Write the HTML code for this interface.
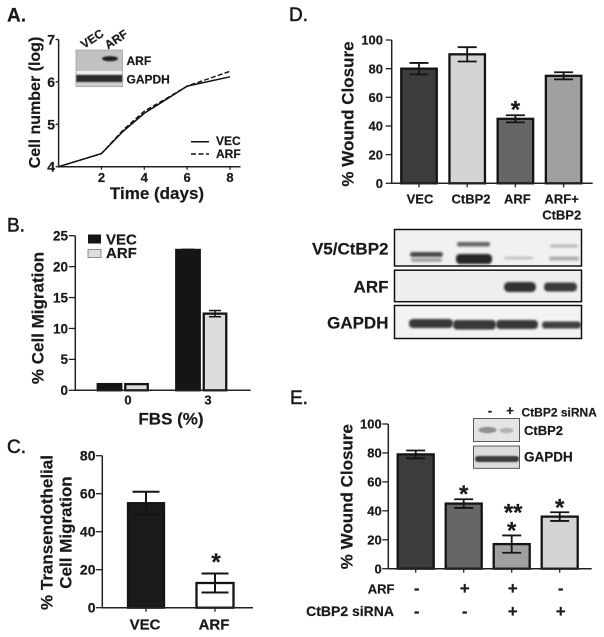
<!DOCTYPE html>
<html lang="en">
<head>
<meta charset="utf-8">
<title>Multi-panel cell migration figure</title>
<style>
html,body{margin:0;padding:0;background:#fff;width:604px;height:637px;overflow:hidden}
svg{display:block;filter:blur(.35px)}
text{font-family:"Liberation Sans",Arial,sans-serif;font-weight:bold;fill:#1a1a1a;stroke:#1a1a1a;stroke-width:.2px}
</style>
</head>
<body>
<svg id="fig" xmlns="http://www.w3.org/2000/svg" width="604" height="637" viewBox="0 0 604 637">
<defs>
<filter id="b1" x="-30%" y="-80%" width="160%" height="260%"><feGaussianBlur stdDeviation="1.1"/></filter>
<filter id="b2" x="-30%" y="-80%" width="160%" height="260%"><feGaussianBlur stdDeviation="0.7"/></filter>
<clipPath id="clipV5"><rect x="395" y="230" width="186" height="36"/></clipPath>
<clipPath id="clipArf"><rect x="395" y="271" width="186" height="30"/></clipPath>
<clipPath id="clipGap"><rect x="395" y="306" width="186" height="32"/></clipPath>
</defs>
<rect width="604" height="637" fill="#fff"/>

<g>
<text x="7" y="21.5" style="font-size:19px;font-weight:bold">A.</text>
<text x="7" y="231.5" style="font-size:19px;font-weight:normal;stroke-width:.55px">B.</text>
<text x="7" y="453" style="font-size:19px;font-weight:normal;stroke-width:.55px">C.</text>
<text x="289" y="21" style="font-size:19px;font-weight:normal;stroke-width:.55px">D.</text>
<text x="290" y="404" style="font-size:19px;font-weight:normal;stroke-width:.55px">E.</text>
</g>

<!-- Panel A static -->
<g id="panelA">
<text transform="translate(40 102.5) rotate(-90)" text-anchor="middle" style="font-size:16px">Cell number (log)</text>
<text x="157" y="199" text-anchor="middle" style="font-size:17px">Time (days)</text>
<g>
<rect x="76" y="50" width="46.5" height="21" fill="#c2c2c2"/>
<ellipse cx="110" cy="58.7" rx="8" ry="2.6" fill="#222" filter="url(#b2)"/>
<rect x="76" y="71" width="46.5" height="3" fill="#eee"/>
<rect x="76" y="74" width="46.5" height="12.7" fill="#cfcfcf"/>
<rect x="76" y="75" width="46.5" height="7" fill="#2a2a2a" filter="url(#b2)"/>
<rect x="76" y="50" width="46.5" height="36.7" fill="none" stroke="#999" stroke-width=".7"/>
</g>
<text transform="translate(84 49) rotate(-33)" style="font-size:12px">VEC</text>
<text transform="translate(108 49.5) rotate(-33)" style="font-size:12px">ARF</text>
<text x="126.5" y="65" style="font-size:12px">ARF</text>
<text x="126.5" y="83.5" style="font-size:12px">GAPDH</text>
<line x1="191" x2="209" y1="141.7" y2="141.7" stroke="#111" stroke-width="1.5"/>
<line x1="191" x2="209" y1="154" y2="154" stroke="#111" stroke-width="1.5" stroke-dasharray="5 2.5"/>
<text x="216" y="145" style="font-size:12px">VEC</text>
<text x="216" y="158" style="font-size:12px">ARF</text>
</g>

<!-- Panel B static -->
<g id="panelB">
<text transform="translate(43.5 318) rotate(-90)" text-anchor="middle" style="font-size:17px">% Cell Migration</text>
<text x="171" y="424.5" text-anchor="middle" style="font-size:17px">FBS (%)</text>
<rect x="88" y="234.5" width="13" height="9" fill="#151515"/>
<rect x="88" y="249.5" width="13" height="8" fill="#dcdcdc" stroke="#777" stroke-width=".8"/>
<text x="106" y="244.5" style="font-size:15px">VEC</text>
<text x="106" y="258" style="font-size:15px">ARF</text>
</g>

<!-- Panel C static -->
<g id="panelC">
<text transform="translate(52.5 532.5) rotate(-90)" text-anchor="middle" style="font-size:17px">% Transendothelial</text>
<text transform="translate(71.5 532.5) rotate(-90)" text-anchor="middle" style="font-size:17px">Cell Migration</text>
</g>

<!-- Panel D static -->
<g id="panelD">
<text transform="translate(353.5 114) rotate(-90)" text-anchor="middle" style="font-size:17px">% Wound Closure</text>
<text x="561.7" y="219.3" text-anchor="middle" style="font-size:13px">CtBP2</text>
</g>

<g>
<text x="388.5" y="254.5" text-anchor="end" style="font-size:17px">V5/CtBP2</text>
<text x="388.5" y="292.5" text-anchor="end" style="font-size:17px">ARF</text>
<text x="388.5" y="328.5" text-anchor="end" style="font-size:17px">GAPDH</text>
<rect x="394.5" y="229.5" width="187" height="36.5" fill="#f1f1f1"/>
<g clip-path="url(#clipV5)">
<rect x="410" y="252" width="33" height="5" rx="2.5" fill="#4a4a4a" filter="url(#b1)"/>
<rect x="411" y="258" width="31" height="4" rx="2" fill="#a5a5a5" filter="url(#b1)"/>
<rect x="457" y="242" width="33" height="4.5" rx="2" fill="#666" filter="url(#b1)"/>
<rect x="456" y="254" width="36" height="10" rx="4" fill="#262626" filter="url(#b1)"/>
<rect x="504" y="256.5" width="29" height="3" rx="1.5" fill="#c4c4c4" filter="url(#b1)"/>
<rect x="550" y="244.5" width="28" height="3" rx="1.5" fill="#b8b8b8" filter="url(#b1)"/>
<rect x="549" y="256.5" width="30" height="4" rx="2" fill="#adadad" filter="url(#b1)"/>
</g>
<rect x="394.5" y="229.5" width="187" height="36.5" fill="none" stroke="#111" stroke-width="1.5"/>
<rect x="394.5" y="270.2" width="187" height="31.5" fill="#efefef"/>
<g clip-path="url(#clipArf)">
<rect x="504" y="282" width="32" height="10" rx="4.5" fill="#333" filter="url(#b1)"/>
<rect x="544" y="282.5" width="33" height="9" rx="4" fill="#3a3a3a" filter="url(#b1)"/>
</g>
<rect x="394.5" y="270.2" width="187" height="31.5" fill="none" stroke="#111" stroke-width="1.5"/>
<rect x="394.5" y="305.5" width="187" height="33" fill="#f3f3f3"/>
<g clip-path="url(#clipGap)">
<rect x="409" y="319" width="44" height="9" rx="4" fill="#383838" filter="url(#b1)"/>
<rect x="453" y="320" width="43" height="9.5" rx="4" fill="#383838" filter="url(#b1)"/>
<rect x="496" y="320" width="42" height="9" rx="4" fill="#383838" filter="url(#b1)"/>
<rect x="542" y="321.5" width="39" height="7" rx="3" fill="#404040" filter="url(#b1)"/>
</g>
<rect x="394.5" y="305.5" width="187" height="33" fill="none" stroke="#111" stroke-width="1.5"/>
</g>

<!-- Panel E static -->
<g id="panelE">
<text transform="translate(352.7 496.7) rotate(-90)" text-anchor="middle" style="font-size:17px">% Wound Closure</text>
<text x="394.5" y="593.5" text-anchor="end" style="font-size:13px">ARF</text>
<text x="394" y="616" text-anchor="end" style="font-size:14px">CtBP2 siRNA</text>
<g>
<rect x="473.5" y="418.5" width="46" height="23" fill="#e4e4e4" stroke="#333" stroke-width=".8"/>
<ellipse cx="487.5" cy="430" rx="9" ry="3.2" fill="#909090" filter="url(#b2)"/>
<ellipse cx="506.5" cy="430.5" rx="7" ry="2.6" fill="#b0b0b0" filter="url(#b2)"/>
<rect x="473.5" y="446" width="46" height="22.3" fill="#dcdcdc" stroke="#333" stroke-width=".8"/>
<rect x="475" y="456" width="44" height="6" rx="3" fill="#3a3a3a" filter="url(#b2)"/>
</g>
<text x="490" y="415" text-anchor="middle" style="font-size:13px">-</text>
<text x="510" y="415" text-anchor="middle" style="font-size:13px">+</text>
<text x="521.5" y="416.5" style="font-size:12px">CtBP2 siRNA</text>
<text x="524" y="435" style="font-size:13px">CtBP2</text>
<text x="524" y="461.5" style="font-size:13.5px">GAPDH</text>
</g>
</svg>

<script>
// Panel A data
const aDays = [0, 2, 3, 4, 5, 6, 8];
const aVec = [4, 4.31, 4.83, 5.26, 5.58, 5.9, 6.12];
const aArf = [4, 4.31, 4.86, 5.31, 5.6, 5.9, 6.25];
const aYTicks = [4, 5, 6, 7];
const aXTicks = [2, 4, 6, 8];
// Panel B data
const bCategories = ['0', '3'];
const bVec = [1, 22.7];
const bArf = [1, 12.4];
const bVecErr = [0, 0.1];
const bArfErr = [0, 0.5];
const bYTicks = [0, 5, 10, 15, 20, 25];
// Panel C data
const cCategories = ['VEC', 'ARF'];
const cValues = [55, 13];
const cErrors = [6, 5];
const cStars = ['', '*'];
const cColors = ['#1a1a1a', '#ffffff'];
const cYTicks = [0, 20, 40, 60, 80];
// Panel D data
const dCategories = ['VEC', 'CtBP2', 'ARF', 'ARF+'];
const dValues = [80, 90, 45, 75];
const dErrors = [4, 5, 2.5, 2.5];
const dStars = ['', '', '*', ''];
const dColors = ['#3c3c3c', '#d4d4d4', '#666666', '#a0a0a0'];
const dYTicks = [0, 20, 40, 60, 80, 100];
// Panel E data
const eValues = [79, 45, 17, 36];
const eErrors = [2.7, 3, 6, 3];
const eStars = ['', '*', '*', '*'];
const eDoubleStars = ['', '', '**', ''];
const eColors = ['#3c3c3c', '#666666', '#a0a0a0', '#d4d4d4'];
const eArfRow = ['-', '+', '+', '-'];
const eSirnaRow = ['-', '-', '+', '+'];
const eYTicks = [0, 20, 40, 60, 80, 100];

const NS = 'http://www.w3.org/2000/svg';
function make(parent, tag, attrs, txt) {
  const el = document.createElementNS(NS, tag);
  for (const k in attrs) el.setAttribute(k, attrs[k]);
  if (txt !== undefined) el.textContent = txt;
  parent.appendChild(el);
  return el;
}
function linear(d0, d1, r0, r1) {
  return v => r0 + (v - d0) * (r1 - r0) / (d1 - d0);
}
function yAxis(parent, prefix, ticks, y, axisX, top, bottom, tickLen, labelX, fs) {
  const ax = make(parent, 'line', {x1: axisX, x2: axisX, y1: top, y2: bottom, stroke: '#222', 'stroke-width': 1.5});
  
  
  ticks.forEach(t => {
    const tk = make(parent, 'line', {x1: axisX - tickLen, x2: axisX, y1: y(t), y2: y(t), stroke: '#222', 'stroke-width': 1.3});
    
    
    const lb = make(parent, 'text', {x: labelX, y: y(t) + fs * 0.36, 'text-anchor': 'end', style: 'font-size:' + fs + 'px'}, String(t));
    
    
  });
}
function xAxisLine(parent, prefix, x0, x1, y0) {
  const ax = make(parent, 'line', {x1: x0, x2: x1, y1: y0, y2: y0, stroke: '#222', 'stroke-width': 1.5});
  
  
}
function xTick(parent, prefix, key, x, y0, len) {
  const tk = make(parent, 'line', {x1: x, x2: x, y1: y0, y2: y0 + len, stroke: '#222', 'stroke-width': 1.3});
  
  
}
function xLabel(parent, prefix, key, x, baseline, fs, str) {
  const lb = make(parent, 'text', {x: x, y: baseline, 'text-anchor': 'middle', style: 'font-size:' + fs + 'px'}, str);
  
  
}
function bar(parent, prefix, key, cx, width, value, y, fill) {
  const r = make(parent, 'rect', {x: cx - width / 2, y: y(value), width: width, height: y(0) - y(value), fill: fill, stroke: '#141414', 'stroke-width': 2.3});
  
  
}
function errorBar(parent, prefix, key, cx, value, err, y, cap, sw) {
  const g = make(parent, 'g', {stroke: '#141414', 'stroke-width': sw, fill: 'none'});
  
  
  make(g, 'line', {x1: cx, x2: cx, y1: y(value + err), y2: y(value - err)});
  make(g, 'line', {x1: cx - cap / 2, x2: cx + cap / 2, y1: y(value + err), y2: y(value + err)});
  make(g, 'line', {x1: cx - cap / 2, x2: cx + cap / 2, y1: y(value - err), y2: y(value - err)});
}
function star(parent, name, cx, centerY, str) {
  const s = make(parent, 'text', {x: cx, y: centerY + 13.5, 'text-anchor': 'middle', style: 'font-size:24px'}, str);
  
  
}

/* Panel A */
(function () {
  const p = document.getElementById('panelA');
  const x = linear(0, 8, 58.6, 230);
  const y = linear(4, 7, 166.7, 39.5);
  yAxis(p, 'a', aYTicks, y, 58.6, 39.5, 167, 3, 55, 14);
  xAxisLine(p, 'a', 58, 240.5, 166.7);
  aXTicks.forEach(t => {
    xTick(p, 'a', t, x(t), 166.7, 3);
    xLabel(p, 'a', t, x(t), 182, 13, String(t));
  });
  const toPts = vals => vals.map((v, i) => x(aDays[i]) + ',' + y(v)).join(' ');
  const arf = make(p, 'polyline', {points: toPts(aArf), fill: 'none', stroke: '#111', 'stroke-width': 1.4, 'stroke-dasharray': '5 2.2'});
  
  
  const vec = make(p, 'polyline', {points: toPts(aVec), fill: 'none', stroke: '#111', 'stroke-width': 1.5});
  
  
})();

/* Panel B */
(function () {
  const p = document.getElementById('panelB');
  const y = linear(0, 25, 390.3, 235.7);
  yAxis(p, 'b', bYTicks, y, 75.3, 235.7, 390.3, 6.5, 68, 13.5);
  const groupX = i => 123 + i * 78.5;
  bCategories.forEach((c, i) => {
    bar(p, 'b', 'vec-' + c, groupX(i) - 13.5, 23.5, bVec[i], y, '#151515');
    if (bVecErr[i] > 0) errorBar(p, 'b', 'vec-' + c, groupX(i) - 13.5, bVec[i], bVecErr[i], y, 12, 1.3);
    bar(p, 'b', 'arf-' + c, groupX(i) + 13.5, 22.5, bArf[i], y, '#dcdcdc');
    if (bArfErr[i] > 0) errorBar(p, 'b', 'arf-' + c, groupX(i) + 13.5, bArf[i], bArfErr[i], y, 12, 1.5);
    xLabel(p, 'b', c, 128 + i * 80, 404.5, 13, c);
  });
  xAxisLine(p, 'b', 75, 250.7, 390.3);
})();

/* Panel C */
(function () {
  const p = document.getElementById('panelC');
  const y = linear(0, 80, 607.7, 455.7);
  yAxis(p, 'c', cYTicks, y, 102.3, 455.7, 607.7, 6.5, 95.5, 14);
  const cx = i => 146 + i * 69;
  cCategories.forEach((c, i) => {
    const key = c.toLowerCase();
    bar(p, 'c', key, cx(i), i === 0 ? 36 : 37, cValues[i], y, cColors[i]);
    errorBar(p, 'c', key, cx(i), cValues[i], cErrors[i], y, 27, 2);
    xTick(p, 'c', key, cx(i), 607.7, 4);
    xLabel(p, 'c', key, cx(i) - 1, 629.5, 15, c);
    if (cStars[i]) star(p, 'c-significance-star-' + key, cx(i) + 1, y(cValues[i] + cErrors[i]) - 17, cStars[i]);
  });
  xAxisLine(p, 'c', 102, 253, 607.7);
})();

/* Panel D */
(function () {
  const p = document.getElementById('panelD');
  const y = linear(0, 100, 183.3, 40);
  yAxis(p, 'd', dYTicks, y, 391.7, 40, 183.3, 6, 383, 13);
  const cx = i => 419 + i * 48.2;
  dCategories.forEach((c, i) => {
    const key = c.toLowerCase().replace('+', '-ctbp2');
    bar(p, 'd', key, cx(i), 35.5, dValues[i], y, dColors[i]);
    errorBar(p, 'd', key, cx(i), dValues[i], dErrors[i], y, 19, 1.8);
    xTick(p, 'd', key, cx(i), 183.3, 4);
    xLabel(p, 'd', key, [420, 471, 517.3, 561.7][i], 203.5, 13, c);
    if (dStars[i]) star(p, 'd-significance-star-' + key, cx(i), y(dValues[i] + dErrors[i]) - 11, dStars[i]);
  });
  xAxisLine(p, 'd', 391, 592.7, 183.3);
})();

/* Panel E */
(function () {
  const p = document.getElementById('panelE');
  const y = linear(0, 100, 568.7, 424);
  yAxis(p, 'e', eYTicks, y, 388.3, 424, 568.7, 6, 381.7, 13);
  const cx = i => 415.7 + i * 48;
  eValues.forEach((v, i) => {
    const key = 'group-' + (i + 1);
    bar(p, 'e', key, cx(i), 36, v, y, eColors[i]);
    errorBar(p, 'e', key, cx(i), v, eErrors[i], y, 19, 1.8);
    xTick(p, 'e', key, cx(i), 568.7, 4);
    const a = make(p, 'text', {x: cx(i) + 1, y: 594, 'text-anchor': 'middle', style: 'font-size:17px'}, eArfRow[i]);
    
    
    const s = make(p, 'text', {x: cx(i) + 1, y: 617, 'text-anchor': 'middle', style: 'font-size:17px'}, eSirnaRow[i]);
    
    
    if (eStars[i]) star(p, 'e-significance-star-' + (i + 1), cx(i), y(v + eErrors[i]) - 10.5, eStars[i]);
    if (eDoubleStars[i]) star(p, 'e-double-star-' + (i + 1), cx(i) + 1.5, y(v + eErrors[i]) - 28.5, eDoubleStars[i]);
  });
  xAxisLine(p, 'e', 388, 591.7, 568.7);
})();
</script>
</body>
</html>
